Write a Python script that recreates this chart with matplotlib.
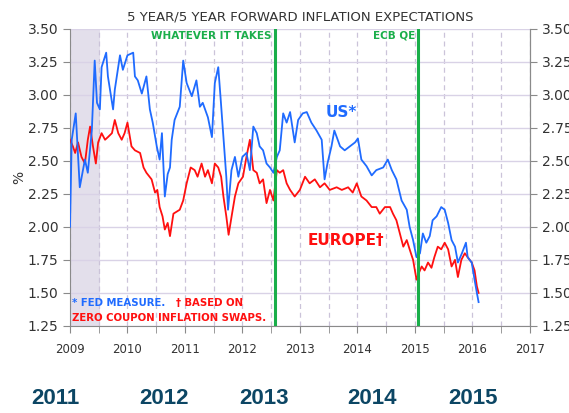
import matplotlib
matplotlib.use("Agg")
import matplotlib.pyplot as plt
from matplotlib.ticker import MultipleLocator

# decimal years and values
us_x = [2009.00, 2009.03, 2009.10, 2009.17, 2009.26, 2009.31, 2009.38, 2009.43, 2009.47,
        2009.52, 2009.55, 2009.63, 2009.66, 2009.75, 2009.78, 2009.87, 2009.92, 2010.00,
        2010.10, 2010.13, 2010.18, 2010.25, 2010.33, 2010.39, 2010.44, 2010.51, 2010.56,
        2010.60, 2010.65, 2010.70, 2010.74, 2010.77, 2010.82, 2010.91, 2010.97, 2011.03,
        2011.12, 2011.20, 2011.26, 2011.31, 2011.40, 2011.47, 2011.52, 2011.58, 2011.62,
        2011.67, 2011.72, 2011.75, 2011.81, 2011.87, 2011.93, 2012.00, 2012.07, 2012.13,
        2012.19, 2012.25, 2012.30, 2012.36, 2012.42, 2012.48, 2012.54, 2012.60, 2012.65,
        2012.71, 2012.77, 2012.83, 2012.91, 2012.97, 2013.05, 2013.12, 2013.20, 2013.29,
        2013.38, 2013.43, 2013.48, 2013.55, 2013.60, 2013.70, 2013.78, 2013.87, 2013.96,
        2014.01, 2014.07, 2014.16, 2014.25, 2014.33, 2014.45, 2014.53, 2014.60, 2014.68,
        2014.77, 2014.86, 2014.91, 2014.97, 2015.03, 2015.09, 2015.14, 2015.20, 2015.26,
        2015.31, 2015.38, 2015.46, 2015.52, 2015.58, 2015.64, 2015.70, 2015.75, 2015.82,
        2015.89, 2015.92, 2015.99, 2016.04, 2016.08, 2016.11]
us_y = [2.00, 2.66, 2.86, 2.30, 2.51, 2.41, 2.73, 3.26, 2.94,
        2.89, 3.21, 3.32, 3.14, 2.89, 3.04, 3.30, 3.19, 3.30,
        3.32, 3.14, 3.11, 3.01, 3.14, 2.89, 2.79, 2.61, 2.51,
        2.71, 2.23, 2.40, 2.45, 2.66, 2.81, 2.91, 3.26, 3.09,
        2.99, 3.11, 2.91, 2.94, 2.83, 2.68, 3.09, 3.21, 2.98,
        2.68, 2.38, 2.13, 2.43, 2.53, 2.38, 2.53, 2.56, 2.43,
        2.76, 2.71, 2.61, 2.58, 2.48, 2.45, 2.41, 2.53, 2.58,
        2.86, 2.79, 2.87, 2.64, 2.81, 2.86, 2.87, 2.79, 2.73,
        2.66, 2.36, 2.48, 2.61, 2.73, 2.61, 2.58, 2.61, 2.64,
        2.67, 2.51, 2.46, 2.39, 2.43, 2.45, 2.51, 2.43, 2.36,
        2.20, 2.13, 2.00, 1.90, 1.77, 1.80, 1.95, 1.88, 1.93,
        2.05, 2.08, 2.15, 2.13, 2.03, 1.90, 1.85, 1.73, 1.80,
        1.88, 1.77, 1.73, 1.60, 1.50, 1.43]

eu_x = [2009.00, 2009.05, 2009.09, 2009.14, 2009.20, 2009.26, 2009.31, 2009.35, 2009.40,
        2009.45, 2009.49, 2009.55, 2009.61, 2009.66, 2009.73, 2009.78, 2009.84, 2009.90,
        2009.95, 2010.00, 2010.07, 2010.13, 2010.22, 2010.28, 2010.33, 2010.42, 2010.48,
        2010.52, 2010.56, 2010.61, 2010.65, 2010.70, 2010.74, 2010.80, 2010.91, 2010.97,
        2011.03, 2011.10, 2011.17, 2011.22, 2011.29, 2011.35, 2011.40, 2011.47, 2011.52,
        2011.58, 2011.63, 2011.67, 2011.72, 2011.76, 2011.82, 2011.87, 2011.93, 2012.01,
        2012.07, 2012.13, 2012.19, 2012.25, 2012.30, 2012.36, 2012.42, 2012.48, 2012.54,
        2012.60, 2012.65, 2012.71, 2012.77, 2012.83, 2012.91, 2013.00, 2013.09, 2013.17,
        2013.26, 2013.35, 2013.43, 2013.52, 2013.64, 2013.73, 2013.84, 2013.92, 2013.99,
        2014.07, 2014.16, 2014.25, 2014.33, 2014.39, 2014.48, 2014.57, 2014.62, 2014.68,
        2014.74, 2014.80, 2014.86, 2014.91, 2014.97, 2015.03, 2015.07, 2015.12, 2015.17,
        2015.23, 2015.29, 2015.34, 2015.40, 2015.46, 2015.52, 2015.58, 2015.64, 2015.70,
        2015.75, 2015.81, 2015.87, 2015.92, 2015.99, 2016.04, 2016.08, 2016.11]
eu_y = [2.66, 2.61, 2.56, 2.64, 2.53, 2.48, 2.66, 2.76, 2.61,
        2.48, 2.64, 2.71, 2.66, 2.68, 2.71, 2.81, 2.71, 2.66,
        2.71, 2.79, 2.61, 2.58, 2.56, 2.45, 2.41, 2.36, 2.26,
        2.28, 2.15, 2.08, 1.98, 2.03, 1.93, 2.10, 2.13, 2.20,
        2.33, 2.45, 2.43, 2.38, 2.48, 2.38, 2.43, 2.33, 2.48,
        2.45, 2.38, 2.23, 2.08, 1.94, 2.10, 2.23, 2.33, 2.38,
        2.53, 2.66, 2.43, 2.41, 2.33, 2.36, 2.18, 2.28, 2.20,
        2.43, 2.41, 2.43, 2.33, 2.28, 2.23, 2.28, 2.38, 2.33,
        2.36, 2.30, 2.33, 2.28, 2.30, 2.28, 2.30, 2.26, 2.33,
        2.23, 2.20, 2.15, 2.15, 2.10, 2.15, 2.15, 2.10, 2.05,
        1.95, 1.85, 1.90, 1.83, 1.75, 1.60, 1.65, 1.70, 1.67,
        1.73, 1.69, 1.77, 1.85, 1.83, 1.88, 1.83, 1.70, 1.75,
        1.62, 1.75, 1.80, 1.77, 1.73, 1.67, 1.55, 1.50]

years = list(range(2009, 2018))
big_years = ["2011", "2012", "2013", "2014", "2015"]

blue = "#1f6bff"
red = "#ff1010"
green = "#1aae4a"
navy = "#0c4664"

fig = plt.figure(figsize=(5.69, 4.13), dpi=100)
ax = fig.add_axes([0.123, 0.211, 0.808, 0.719])

ax.axvspan(2009, 2009.52, color="#e3dfeb", zorder=0, lw=0)
ax.set_xlim(2009, 2017)
ax.set_ylim(1.25, 3.5)
ax.yaxis.set_major_locator(MultipleLocator(0.25))
ax.xaxis.set_minor_locator(MultipleLocator(0.5))
ax.set_xticks(years)
ax.set_xticklabels([str(y) for y in years])

# grid
ax.grid(axis="y", color="#d9d2e6", lw=1, zorder=1)
ax.grid(axis="x", which="both", color="#cbc3d9", lw=0.9, ls=(0, (4, 3)), zorder=1)

ax.plot(eu_x, eu_y, color=red, lw=1.3, zorder=3)
ax.plot(us_x, us_y, color=blue, lw=1.3, zorder=4)

ax.axvline(2012.57, color=green, lw=2.2, zorder=5)
ax.axvline(2015.05, color=green, lw=2.2, zorder=5)
ax.text(2012.51, 3.447, "WHATEVER IT TAKES", color=green, fontsize=7.5,
        fontweight="bold", ha="right", va="center")
ax.text(2015.0, 3.447, "ECB QE", color=green, fontsize=7.5,
        fontweight="bold", ha="right", va="center")

ax.text(2013.45, 2.87, "US*", color=blue, fontsize=11, fontweight="bold", va="center")
ax.text(2013.14, 1.90, "EUROPE\u2020", color=red, fontsize=11, fontweight="bold", va="center")

ax.text(2009.04, 1.424, "* FED MEASURE.", color=blue, fontsize=7.3,
        fontweight="bold", va="center")
ax.text(2010.84, 1.424, "\u2020 BASED ON", color=red, fontsize=7.3,
        fontweight="bold", va="center")
ax.text(2009.04, 1.31, "ZERO COUPON INFLATION SWAPS.", color=red, fontsize=7.3,
        fontweight="bold", va="center")

ax.spines["top"].set_visible(False)
for s in ["left", "bottom", "right"]:
    ax.spines[s].set_color("#8a8a8a")
ax.tick_params(axis="both", which="both", color="#8a8a8a", direction="out")
ax.tick_params(axis="y", labelsize=10, labelcolor="#333333", length=5)
ax.tick_params(axis="x", labelsize=8.5, labelcolor="#333333", length=5, pad=7)
ax.tick_params(axis="x", which="minor", length=5)
ax.set_ylabel("%", fontsize=10, color="#333333", labelpad=1)

ax2 = ax.twinx()
ax2.set_ylim(1.25, 3.5)
ax2.yaxis.set_major_locator(MultipleLocator(0.25))
ax2.spines["right"].set_color("#8a8a8a")
ax2.spines["top"].set_visible(False)
ax2.spines["left"].set_visible(False)
ax2.spines["bottom"].set_visible(False)
ax2.tick_params(axis="y", labelsize=10, labelcolor="#333333", color="#8a8a8a", length=5)

ax.set_title("5 YEAR/5 YEAR FORWARD INFLATION EXPECTATIONS", fontsize=9.5,
             color="#333333", pad=6)

for lab, xc in zip(big_years, [55, 164, 264, 372, 473]):
    fig.text(xc / 569, 1 - 399 / 413, lab, fontsize=16, fontweight="bold",
             color=navy, ha="center", va="center", family="Liberation Sans")

fig.savefig("out.png", dpi=100)
